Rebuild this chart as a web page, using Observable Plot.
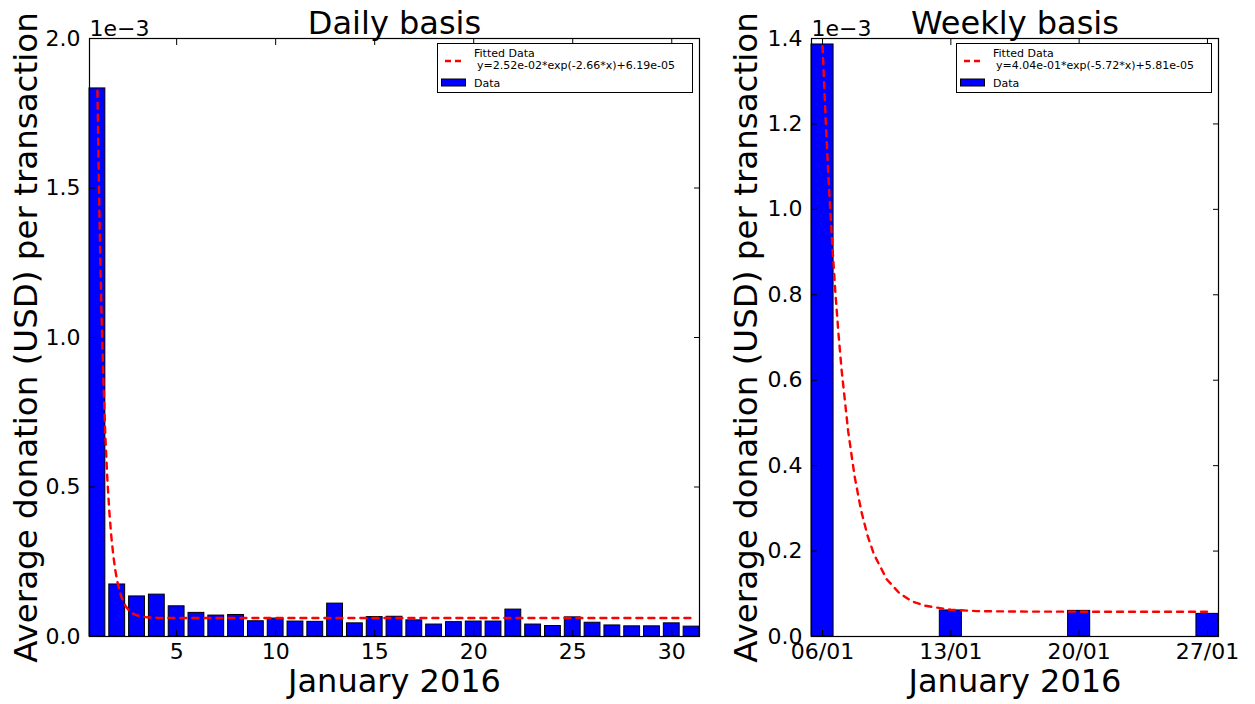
<!DOCTYPE html>
<html><head><meta charset="utf-8">
<script src="https://cdn.jsdelivr.net/npm/d3@7"></script>
<script src="https://cdn.jsdelivr.net/npm/@observablehq/plot@0.6"></script>
<style>
body{margin:0;background:#fff;}
#wrap{position:relative;width:1255px;height:704px;font-family:"DejaVu Sans",sans-serif;overflow:hidden;background:#fff}
#wrap > svg{position:absolute;top:0}
.legend{position:absolute;top:43px;width:256px;height:50px;border:1px solid #000;background:#fff;box-sizing:border-box}
</style></head><body><div id="wrap"></div>
<script>
// ---- Daily panel data (values in units of 1e-3 USD) ----
const days = [1,2,3,4,5,6,7,8,9,10,11,12,13,14,15,16,17,18,19,20,21,22,23,24,25,26,27,28,29,30,31];
const dailyValues = [1.833,0.174,0.134,0.140,0.101,0.079,0.070,0.072,0.051,0.060,0.050,0.049,0.110,0.044,0.065,0.066,0.054,0.040,0.048,0.050,0.050,0.090,0.040,0.035,0.064,0.046,0.037,0.034,0.034,0.044,0.033];
const dailyTicks = [5,10,15,20,25,30];
const dailyYTicks = [0,0.5,1.0,1.5,2.0];
const dailyFitX = [1,1.1,1.2,1.3,1.4,1.5,1.6,1.7,1.8,1.9,2.0,2.2,2.4,2.6,2.8,3.0,3.5,4,5,31];
const dailyFitY = [1.825,1.413,1.097,0.856,0.670,0.528,0.419,0.336,0.272,0.223,0.185,0.134,0.104,0.087,0.0766,0.0705,0.0642,0.0625,0.0619,0.0619];
const dailyFitLabel = "y=2.52e-02*exp(-2.66*x)+6.19e-05";

// ---- Weekly panel data ----
const weeks = [1,2,3,4];
const weekLabels = ["06/01","13/01","20/01","27/01"];
const weeklyValues = [1.386,0.061,0.060,0.053];
const weeklyYTicks = [0,0.2,0.4,0.6,0.8,1.0,1.2,1.4];
const weeklyFitX = [1,1.025,1.05,1.075,1.1,1.125,1.15,1.2,1.25,1.3,1.35,1.4,1.5,1.6,1.7,1.8,2.0,2.2,2.5,3,4];
const weeklyFitY = [1.382,1.206,1.053,0.921,0.806,0.706,0.620,0.480,0.375,0.296,0.237,0.193,0.134,0.101,0.082,0.072,0.0625,0.0595,0.0584,0.0581,0.0581];
const weeklyFitLabel = "y=4.04e-01*exp(-5.72*x)+5.81e-05";

const yLabel = "Average donation (USD) per transaction";
const xLabel = "January 2016";

function panel(o) {
  const data = o.xs.map((x, i) => ({x, v: o.vs[i]}));
  const fit = o.fx.map((x, i) => ({x, y: o.fy[i]}));
  return Plot.plot({
    width: o.width, height: 704,
    marginTop: 38, marginBottom: 68, marginLeft: o.marginLeft, marginRight: o.marginRight,
    style: {fontFamily: "DejaVu Sans", fontSize: "22px", background: "transparent", overflow: "visible", color: "#000"},
    x: {domain: o.xDomain, label: null},
    y: {domain: o.yDomain, label: null},
    marks: [
      Plot.rectY(data, {x1: d => d.x - o.half, x2: d => d.x + o.half, y1: d => 0, y2: d => d.v, fill: "#0000ff", stroke: "#000", strokeWidth: 1}),
      Plot.line(fit, {x: "x", y: "y", stroke: "#ff0000", strokeWidth: 2.4, strokeDasharray: "6,6"}),
      Plot.frame({stroke: "#000", strokeWidth: 1.2}),
      Plot.axisX(o.xTicks, {anchor: "bottom", tickSize: -6, tickFormat: () => "", label: null}),
      Plot.axisX(o.xTicks, {anchor: "top", tickSize: -6, tickFormat: () => "", label: null}),
      Plot.axisY(o.yTicks, {anchor: "left", tickSize: -6, tickFormat: () => "", label: null}),
      Plot.axisY(o.yTicks, {anchor: "right", tickSize: -6, tickFormat: () => "", label: null}),
      Plot.axisX(o.xTicks, {anchor: "bottom", tickSize: 0, tickPadding: 7, tickFormat: o.xFormat, label: null, fontSize: 22}),
      Plot.axisY(o.yTicks, {anchor: "left", tickSize: 0, tickPadding: 9, tickFormat: d => d.toFixed(1), label: null, fontSize: 22}),
      Plot.text(["1e\u22123"], {frameAnchor: "top-left", textAnchor: "start", lineAnchor: "bottom", dy: -3, fontSize: 22}),
      Plot.text([o.title], {frameAnchor: "top", lineAnchor: "bottom", dy: -5, fontSize: 32}),
      Plot.text([xLabel], {frameAnchor: "bottom", lineAnchor: "top", dy: 33, fontSize: 32}),
      Plot.text([yLabel], {frameAnchor: "left", rotate: -90, textAnchor: "middle", lineAnchor: "top", dx: o.yLabelDx, fontSize: 32.5})
    ]
  });
}

function legend(left, eq) {
  const div = document.createElement("div");
  div.className = "legend";
  div.style.left = left + "px";
  div.innerHTML = `<svg width="254" height="48" style="display:block;font-family:'DejaVu Sans';font-size:11px">
    <line x1="7" x2="23" y1="17" y2="17" stroke="#ff0000" stroke-width="2.4" stroke-dasharray="6,4"/>
    <text x="36" y="13">Fitted Data</text>
    <text x="39" y="25">${eq}</text>
    <rect x="3.5" y="35" width="24" height="7" fill="#0000ff" stroke="#000" stroke-width="1"/>
    <text x="36" y="42.5">Data</text>
  </svg>`;
  return div;
}

const wrap = document.getElementById("wrap");

const left = panel({
  xs: days, vs: dailyValues, fx: dailyFitX, fy: dailyFitY,
  xDomain: [0.6, 31.4], xTicks: dailyTicks, xFormat: d => String(d),
  yDomain: [0, 2.0], yTicks: dailyYTicks, half: 0.4,
  width: 740, marginLeft: 89, marginRight: 41, title: "Daily basis", yLabelDx: -76
});
left.style.left = "0px";
wrap.appendChild(left);

const right = panel({
  xs: weeks, vs: weeklyValues, fx: weeklyFitX, fy: weeklyFitY,
  xDomain: [0.914, 4.086], xTicks: weeks, xFormat: d => weekLabels[weeks.indexOf(d)],
  yDomain: [0, 1.4], yTicks: weeklyYTicks, half: 0.086,
  width: 535, marginLeft: 91, marginRight: 37, title: "Weekly basis", yLabelDx: -78
});
right.style.left = "720px";
wrap.appendChild(right);

wrap.appendChild(legend(437, dailyFitLabel));
wrap.appendChild(legend(956, weeklyFitLabel));
</script>
</body></html>
